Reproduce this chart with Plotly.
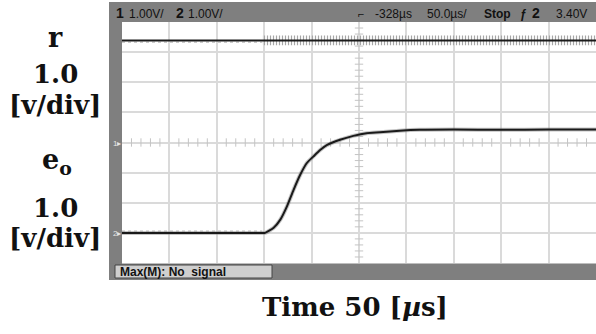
import plotly.graph_objects as go

# ---- data (time in microseconds, voltages in volts) ----
t_eo = [0, 150, 151, 160, 167, 174, 181, 188, 195, 202, 209, 216, 230, 244, 258, 272, 293, 314, 350, 400, 450, 500]
eo = [0, 0, 0.0, 0.17, 0.44, 0.88, 1.43, 1.93, 2.32, 2.54, 2.75, 2.91, 3.09, 3.22, 3.31, 3.34, 3.39, 3.42, 3.43, 3.42, 3.43, 3.43]
t_r = [0, 500]
r = [3.39, 3.39]
t_noise_start = 148            # r noise visible after trigger
r_noise_env = 0.16             # half-height of noise band [V]

ch1_ground = 0                 # screen division of channel 1 ground
ch2_ground = -3                # screen division of channel 2 ground
time_per_div = 50              # us/div

W, H = 596, 334
L, R, T, B = 122, 0, 22, 71
PW, PH = W - L - R, H - T - B


def px(x):
    return (x - L) / PW


def py(y):
    return (H - B - y) / PH


fig = go.Figure()

# center-line small ticks (graticule decoration)
tx = [v for v in range(10, 500, 10) if v % time_per_div]
fig.add_trace(go.Scatter(x=tx, y=[0] * len(tx), mode="markers", hoverinfo="skip",
                         marker=dict(symbol="line-ns", size=6, line=dict(width=1, color="#c4c4c4"))))
ty = [k / 5 for k in range(-19, 20) if k % 5]
fig.add_trace(go.Scatter(x=[250] * len(ty), y=ty, mode="markers", hoverinfo="skip",
                         marker=dict(symbol="line-ew", size=6, line=dict(width=1, color="#c4c4c4"))))

ry = [v + ch1_ground for v in r]
# r noise band (vertical hatching)
fig.add_trace(go.Scatter(
    x=[t_noise_start, t_r[-1], t_r[-1], t_noise_start, t_noise_start],
    y=[ry[0] + r_noise_env, ry[-1] + r_noise_env, ry[-1] - r_noise_env, ry[0] - r_noise_env, ry[0] + r_noise_env],
    fill="toself", mode="lines", line=dict(width=0.1, color="rgba(0,0,0,0)"),
    fillcolor="rgba(215,215,215,0.3)",
    fillpattern=dict(shape="|", fgcolor="#a6a6a6", size=3, solidity=0.4, fillmode="replace"),
    hoverinfo="skip"))
# pre-trigger dots
fig.add_trace(go.Scatter(x=[0, t_noise_start], y=[ry[0] - 0.06] * 2, mode="lines",
                         line=dict(color="#b4b4b4", width=1, dash="dot"), hoverinfo="skip"))
fig.add_trace(go.Scatter(x=t_r, y=ry, mode="lines", line=dict(color="#1a1a1a", width=2)))

ey = [v + ch2_ground for v in eo]
fig.add_trace(go.Scatter(x=[0, t_noise_start], y=[ch2_ground + 0.06] * 2, mode="lines",
                         line=dict(color="#b4b4b4", width=1, dash="dot"), hoverinfo="skip"))
fig.add_trace(go.Scatter(x=t_eo, y=ey, mode="lines", line=dict(color="#8a8a8a", width=4, shape="spline", smoothing=0.6),
                         opacity=0.5, hoverinfo="skip"))
fig.add_trace(go.Scatter(x=t_eo, y=ey, mode="lines", line=dict(color="#1a1a1a", width=2, shape="spline", smoothing=0.6)))

gray = "#7f7f7f"
shapes = [
    dict(type="rect", xref="paper", yref="paper", x0=px(109), x1=px(600), y0=py(22), y1=py(2),
         fillcolor=gray, line=dict(width=0), layer="above"),
    dict(type="rect", xref="paper", yref="paper", x0=px(109), x1=px(122), y0=py(279), y1=py(2),
         fillcolor=gray, line=dict(width=0), layer="above"),
    dict(type="rect", xref="paper", yref="paper", x0=px(109), x1=px(600), y0=py(280), y1=py(263.5),
         fillcolor=gray, line=dict(width=0), layer="above"),
    dict(type="rect", xref="paper", yref="paper", x0=px(115), x1=px(272), y0=py(278), y1=py(265),
         fillcolor="#cfcfcf", line=dict(width=1, color="#444"), layer="above"),
]

sans = "Liberation Sans"
serif = "DejaVu Serif"
ann = []


def txt(x, y, s, size, font=sans, color="#111", xanchor="left"):
    ann.append(dict(x=px(x), y=py(y), xref="paper", yref="paper", text=s, showarrow=False,
                    xanchor=xanchor, yanchor="middle", font=dict(family=font, size=size, color=color)))


# top status bar
txt(114, 13, "<b>1</b>", 14)
txt(127, 14, "1.00V/", 12)
txt(174, 13, "<b>2</b>", 14)
txt(186, 14, "1.00V/", 12)
txt(356, 14, "⌐", 11)
txt(373, 14, "-328µs", 12)
txt(425, 14, "50.0µs/", 12)
txt(482, 14, "<b>Stop</b>", 12)
txt(518, 14, "<b>ƒ</b>", 12)
txt(530, 13, "<b>2</b>", 14)
txt(554, 14, "3.40V", 12)
# bottom measurement label
txt(118, 271.5, "<b>Max(M): No  signal</b>", 12)
# ground markers
txt(111, 143, "1▸", 8, color="#e6e6e6")
txt(111, 233, "2▸", 8, color="#e6e6e6")

# left labels
txt(55, 37, "<b>r</b>", 27, font=serif, xanchor="center")
txt(55, 74, "<b>1.0</b>", 26, font=serif, xanchor="center")
txt(55, 105, "<b>[v/div]</b>", 26, font=serif, xanchor="center")
txt(57, 162, "<b>e<sub>o</sub></b>", 27, font=serif, xanchor="center")
txt(55, 208, "<b>1.0</b>", 26, font=serif, xanchor="center")
txt(55, 238, "<b>[v/div]</b>", 26, font=serif, xanchor="center")
# time label
txt(355, 307, "<b>Time 50 [<i>µ</i>s]</b>", 26, font=serif, xanchor="center")

fig.update_layout(
    width=W, height=H, margin=dict(l=L, r=R, t=T, b=B),
    paper_bgcolor="white", plot_bgcolor="white", showlegend=False,
    shapes=shapes, annotations=ann,
    xaxis=dict(range=[0, 500], dtick=time_per_div, showgrid=True, gridcolor="#dadada", gridwidth=1.5,
               zeroline=False, showticklabels=False, ticks="", fixedrange=True),
    yaxis=dict(range=[-4, 4], dtick=1, showgrid=True, gridcolor="#dadada", gridwidth=1.5,
               zeroline=False, showticklabels=False, ticks="", fixedrange=True),
)

fig.write_html("out.html")
